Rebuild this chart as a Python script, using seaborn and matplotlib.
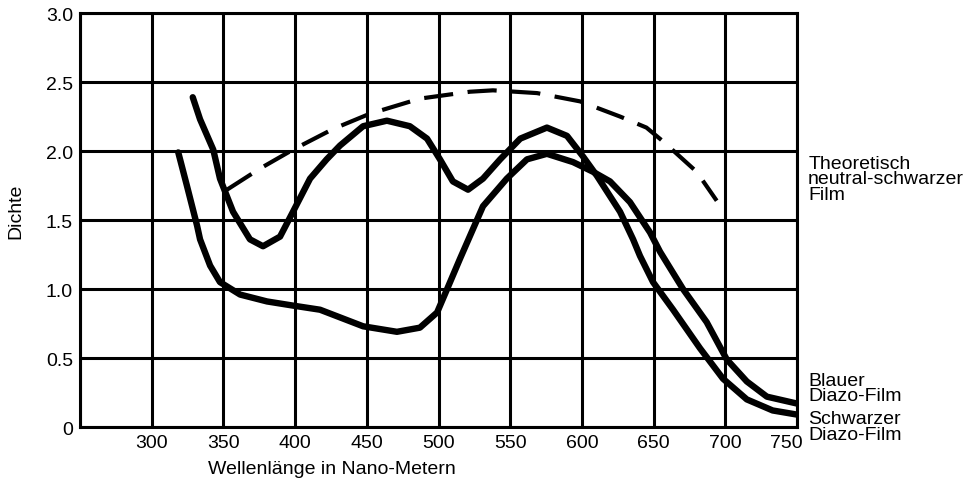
import matplotlib
matplotlib.use("Agg")
import matplotlib.pyplot as plt
import matplotlib.transforms as mtrans
import seaborn as sns
import pandas as pd

# Schwarzer Diazo-Film (double hump)
schwarz_x = [328.6, 333.7, 342.9, 347.6, 356.7, 368.5, 377.6, 389.5, 398.5, 410.4, 422.0,
             431.3, 447.4, 464.0, 480.0, 492.0, 501.0, 510.0, 520.6, 531.0, 543.0, 557.0,
             575.6, 589.6, 600.8, 610.5, 626.6, 635.7, 640.5, 649.6, 663.6, 682.4, 698.4,
             715.0, 733.0, 750.0]
schwarz_y = [2.39, 2.23, 2.01, 1.80, 1.56, 1.36, 1.31, 1.38, 1.56, 1.80, 1.94,
             2.04, 2.18, 2.22, 2.18, 2.09, 1.94, 1.78, 1.72, 1.80, 1.94, 2.09,
             2.17, 2.11, 1.96, 1.82, 1.56, 1.36, 1.24, 1.05, 0.85, 0.57, 0.35,
             0.20, 0.12, 0.09]

# Blauer Diazo-Film (single hump)
blau_x = [318.5, 324.5, 331.6, 333.7, 340.7, 347.6, 361.6, 380.4, 398.5, 417.4, 447.4,
          471.0, 487.0, 499.0, 506.0, 515.0, 531.0, 547.6, 561.7, 575.6, 593.8, 607.7,
          619.6, 633.5, 647.5, 654.5, 670.5, 687.0, 701.0, 715.0, 729.0, 750.0]
blau_y = [1.99, 1.75, 1.46, 1.36, 1.17, 1.05, 0.96, 0.91, 0.88, 0.85, 0.73,
          0.69, 0.72, 0.83, 1.00, 1.22, 1.60, 1.80, 1.94, 1.98, 1.92, 1.85,
          1.78, 1.63, 1.41, 1.27, 1.00, 0.76, 0.49, 0.33, 0.22, 0.17]

# Theoretisch neutral-schwarzer Film (dashed)
theo_x = [352.5, 375.0, 398.5, 426.5, 452.0, 487.0, 522.0, 538.0, 568.7, 598.7, 626.6,
          645.0, 656.6, 680.0, 694.0]
theo_y = [1.72, 1.87, 2.01, 2.16, 2.27, 2.38, 2.43, 2.44, 2.42, 2.36, 2.25,
          2.17, 2.07, 1.85, 1.64]

x_ticks = [300, 350, 400, 450, 500, 550, 600, 650, 700, 750]
y_ticks = [0, 0.5, 1.0, 1.5, 2.0, 2.5, 3.0]
y_tick_labels = ["0", "0.5", "1.0", "1.5", "2.0", "2.5", "3.0"]

sns.set_style("white")
plt.rcParams["font.family"] = ["Liberation Sans", "DejaVu Sans"]
plt.rcParams["text.color"] = "black"
plt.rcParams["xtick.color"] = "black"
plt.rcParams["ytick.color"] = "black"

FS = 14

fig = plt.figure(figsize=(9.69, 4.85), dpi=100)
ax = fig.add_axes([0.0826, 0.1175, 0.7399, 0.8535])

df_s = pd.DataFrame({"x": schwarz_x, "y": schwarz_y})
df_b = pd.DataFrame({"x": blau_x, "y": blau_y})
df_t = pd.DataFrame({"x": theo_x, "y": theo_y})

for v in range(250, 751, 50):
    ax.axvline(v, color="black", lw=2.2, zorder=1)
for v in y_ticks:
    ax.axhline(v, color="black", lw=2.2, zorder=1)

sns.lineplot(data=df_s, x="x", y="y", sort=False, ax=ax, color="black", lw=4.6,
             solid_capstyle="round", solid_joinstyle="round", zorder=3)
sns.lineplot(data=df_b, x="x", y="y", sort=False, ax=ax, color="black", lw=4.6,
             solid_capstyle="round", solid_joinstyle="round", zorder=3)
sns.lineplot(data=df_t, x="x", y="y", sort=False, ax=ax, color="black", lw=3.0,
             zorder=3, dashes=False)
ax.lines[-1].set_dashes([7, 3.5])

ax.set_xlim(250, 750)
ax.set_ylim(0, 3.0)
ax.set_xticks(x_ticks)
ax.set_xticklabels([str(t) for t in x_ticks], fontsize=FS)
ax.set_yticks(y_ticks)
ax.set_yticklabels(y_tick_labels, fontsize=FS)
ax.tick_params(length=0, pad=5, colors="black")
for s in ax.spines.values():
    s.set_linewidth(2.2)
    s.set_color("black")

# the last x label sits slightly left of its grid line in the reference
last = ax.get_xticklabels()[-1]
last.set_transform(last.get_transform() + mtrans.ScaledTranslation(-0.11, 0, fig.dpi_scale_trans))

ax.set_xlabel("")
ax.set_ylabel("")
fig.text(0.343, 0.031, "Wellenlänge in Nano-Metern", ha="center", va="center", fontsize=FS)
fig.text(0.016, 0.565, "Dichte", ha="center", va="center", rotation=90, fontsize=FS)

fig.text(0.834, 0.629, "Theoretisch\nneutral-schwarzer\nFilm", ha="left", va="center",
         fontsize=FS, linespacing=0.9)
fig.text(0.834, 0.198, "Blauer\nDiazo-Film", ha="left", va="center",
         fontsize=FS, linespacing=0.9)
fig.text(0.834, 0.118, "Schwarzer\nDiazo-Film", ha="left", va="center",
         fontsize=FS, linespacing=0.9)

fig.savefig("out.png", dpi=100)
